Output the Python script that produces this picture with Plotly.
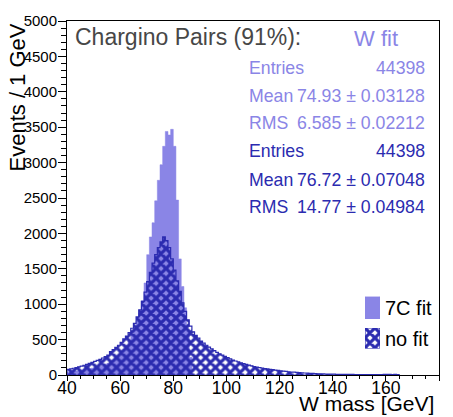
import numpy as np
import plotly.graph_objects as go

# Histogram binning (GeV)
BIN_LOW = 40
BIN_WIDTH = 1

# Reconstructed W mass, 7C kinematic fit (events per 1 GeV bin, bins from 40 GeV)
fit_7c = [
    40, 45, 50, 55, 60, 65, 72, 80, 88, 96,
    105, 115, 125, 137, 150, 165, 185, 210, 240, 270,
    310, 360, 420, 490, 570, 660, 760, 880, 1050, 1300,
    1700, 1950, 2150, 2460, 2750, 2970, 3230, 3440, 3390, 3470,
    3230, 2470, 1640, 1250, 950, 620, 250,
]

# Reconstructed W mass without fit (events per 1 GeV bin, bins from 40 GeV)
no_fit = [
    80, 88, 95, 105, 115, 125, 138, 150, 163, 178,
    192, 207, 222, 240, 260, 282, 330, 360, 390, 420,
    460, 510, 550, 600, 660, 730, 820, 920, 1040, 1170,
    1320, 1450, 1580, 1700, 1800, 1880, 1950, 1900, 1800, 1640,
    1480, 1330, 1180, 1020, 900, 780, 690, 610, 560, 520,
    480, 450, 420, 395, 370, 345, 320, 300, 280, 262,
    245, 228, 212, 198, 185, 172, 160, 150, 140, 130,
    120, 112, 105, 98, 92, 86, 80, 75, 70, 65,
    60, 55, 50, 46, 42, 40, 36, 33, 30, 28,
    26, 24, 22, 20, 18, 17, 15, 14, 13, 12,
    11, 10, 10, 9, 9, 8, 8, 8, 7, 7,
    7, 6, 6, 6, 7, 5, 5, 6, 7, 8,
    9, 8, 7, 8, 6,
]

# Statistics boxes
stats_fit = [("Entries", "44398"), ("Mean", "74.93 \u00b1 0.03128"), ("RMS", "6.585 \u00b1 0.02212")]
stats_nofit = [("Entries", "44398"), ("Mean", "76.72 \u00b1 0.07048"), ("RMS", "14.77 \u00b1 0.04984")]

PURPLE = "#8a85e6"
BLUE = "#2b2bb0"
FONT = "Liberation Sans, Arial, Helvetica, sans-serif"

W, H = 453, 417
ML, MR, MT, MB = 67, 14, 14, 42
PW, PH = W - ML - MR, H - MT - MB


def px_x(p):
    return (p - ML) / PW


def px_y(p):
    return (H - MB - p) / PH


def step_xy(counts):
    counts = np.asarray(counts, dtype=float)
    edges = BIN_LOW + BIN_WIDTH * np.arange(len(counts) + 1)
    xs = np.concatenate([[edges[0]], edges])
    ys = np.concatenate([[0.0], counts, [0.0]])
    return xs, ys


HATCH = dict(shape="x", fgcolor=BLUE, bgcolor="rgba(0,0,0,0)", size=7, solidity=0.7, fillmode="replace")

fig = go.Figure()

x7, y7 = step_xy(fit_7c)
fig.add_trace(go.Scatter(
    x=x7, y=y7, mode="lines", line=dict(shape="hv", color=PURPLE, width=0.5),
    fill="tozeroy", fillcolor=PURPLE, hoverinfo="skip", showlegend=False,
))

xn, yn = step_xy(no_fit)
fig.add_trace(go.Scatter(
    x=xn, y=yn, mode="lines", line=dict(shape="hv", color=BLUE, width=1.2),
    fill="tozeroy", fillcolor="rgba(0,0,0,0)", fillpattern=HATCH,
    hoverinfo="skip", showlegend=False,
))

# Legend swatches on their own small axes
sq_x, sq_y = [0, 1, 1, 0, 0], [0, 0, 1, 1, 0]
fig.add_trace(go.Scatter(
    x=sq_x, y=sq_y, xaxis="x2", yaxis="y2", mode="lines", line=dict(color=PURPLE, width=0.5),
    fill="toself", fillcolor=PURPLE, hoverinfo="skip", showlegend=False,
))
fig.add_trace(go.Scatter(
    x=sq_x, y=sq_y, xaxis="x3", yaxis="y3", mode="lines", line=dict(color=BLUE, width=1.2),
    fill="toself", fillcolor="rgba(0,0,0,0)", fillpattern=HATCH, hoverinfo="skip", showlegend=False,
))

hidden = dict(visible=False, range=[0, 1], fixedrange=True)

fig.update_layout(
    width=W, height=H,
    margin=dict(l=ML, r=MR, t=MT, b=MB),
    paper_bgcolor="white", plot_bgcolor="white",
    font=dict(family=FONT, color="black"),
    showlegend=False,
    xaxis=dict(
        range=[40, 180], dtick=20, tick0=40, showgrid=False, zeroline=False,
        showline=True, linecolor="black", linewidth=1, mirror=True,
        ticks="outside", ticklen=5, tickwidth=1, tickcolor="black",
        minor=dict(dtick=5, ticks="outside", ticklen=3, tickcolor="black"),
        tickfont=dict(size=17.5, family=FONT, color="black"),
        ticklabelstandoff=-8,
    ),
    yaxis=dict(
        range=[0, 5000], dtick=500, showgrid=False, zeroline=False,
        showline=True, linecolor="black", linewidth=1, mirror=True,
        ticks="outside", ticklen=8, tickwidth=1, tickcolor="black",
        minor=dict(dtick=100, ticks="outside", ticklen=5, tickcolor="black"),
        tickfont=dict(size=15, family=FONT, color="black"),
        ticklabelstandoff=-2,
    ),
    xaxis2=dict(domain=[px_x(365), px_x(380)], anchor="y2", **hidden),
    yaxis2=dict(domain=[px_y(318), px_y(295)], anchor="x2", **hidden),
    xaxis3=dict(domain=[px_x(365), px_x(380)], anchor="y3", **hidden),
    yaxis3=dict(domain=[px_y(348), px_y(327)], anchor="x3", **hidden),
)

ann = []


def text(s, x, y, size, color, xanchor="left", angle=0, yanchor="middle"):
    ann.append(dict(
        text=s, x=px_x(x), y=px_y(y), xref="paper", yref="paper",
        xanchor=xanchor, yanchor=yanchor, showarrow=False, textangle=angle,
        font=dict(size=size, color=color, family=FONT),
    ))


text("Chargino Pairs (91%):", 73, 30, 23, "#474747")
text("W fit", 352, 32, 22, PURPLE)

rows_y = [62, 90, 118, 147, 176, 204]
for (label, value), y in zip(stats_fit + stats_nofit, rows_y):
    color = PURPLE if y < 130 else BLUE
    text(label, 247, y, 17.7, color)
    text(value, 427, y, 17.7, color, xanchor="right")

text("7C fit", 383, 307, 20, "black")
text("no fit", 383, 338, 20, "black")

text("W mass [GeV]", 436, 404, 21, "black", xanchor="right")
text("Events / 1 GeV", 17, 92, 22, "black", xanchor="center", angle=-90)

fig.update_layout(annotations=ann)

fig.write_html("out.html")
